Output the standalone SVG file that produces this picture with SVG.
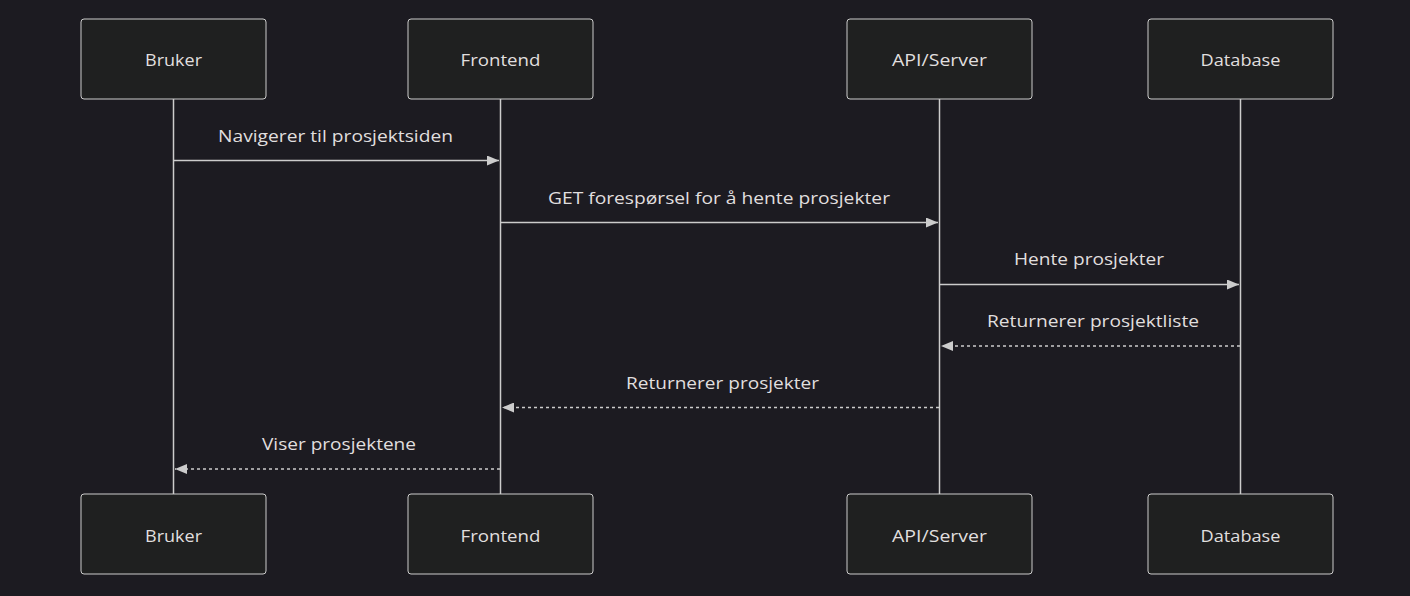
<svg xmlns="http://www.w3.org/2000/svg" width="1410" height="596" viewBox="0 0 1410 596">
<style>
.actor rect{fill:#1f2020;stroke:#cccccc;stroke-width:1}
.actor text{fill:#e0dfdf;font-family:"Open Sans","DejaVu Sans",sans-serif;font-size:17px;font-weight:500;text-anchor:middle;dominant-baseline:central}
.life{stroke:#cccccc;stroke-width:1.5}
.msg{stroke:#cccccc;stroke-width:1.5;fill:none}
.dash{stroke-dasharray:3,3}
.lbl{fill:#e0dfdf;font-family:"Open Sans","DejaVu Sans",sans-serif;font-size:17px;font-weight:500;text-anchor:middle}
</style>
<defs>
<marker id="ah" viewBox="0 0 12 10" refX="12" refY="5" markerWidth="12" markerHeight="10" markerUnits="userSpaceOnUse" orient="auto">
<path d="M0,0 L12,5 L0,10 z" fill="#cccccc"/>
</marker>
</defs>
<rect width="1410" height="596" fill="#1c1b21"/>
<g id="lifelines">
<line class="life" x1="173.5" y1="99" x2="173.5" y2="494"/>
<line class="life" x1="500.5" y1="99" x2="500.5" y2="494"/>
<line class="life" x1="939.5" y1="99" x2="939.5" y2="494"/>
<line class="life" x1="1240.5" y1="99" x2="1240.5" y2="494"/>
</g>
<g id="bruker-top" class="actor"><rect x="81" y="19" width="185" height="80" rx="3"/><text x="173.5" y="59" textLength="57" lengthAdjust="spacingAndGlyphs">Bruker</text></g>
<g id="frontend-top" class="actor"><rect x="408" y="19" width="185" height="80" rx="3"/><text x="500.5" y="59" textLength="80" lengthAdjust="spacingAndGlyphs">Frontend</text></g>
<g id="api-top" class="actor"><rect x="847" y="19" width="185" height="80" rx="3"/><text x="939.5" y="59" textLength="95" lengthAdjust="spacingAndGlyphs">API/Server</text></g>
<g id="database-top" class="actor"><rect x="1148" y="19" width="185" height="80" rx="3"/><text x="1240.5" y="59" textLength="80" lengthAdjust="spacingAndGlyphs">Database</text></g>
<g id="bruker-bottom" class="actor"><rect x="81" y="494" width="185" height="80" rx="3"/><text x="173.5" y="535" textLength="57" lengthAdjust="spacingAndGlyphs">Bruker</text></g>
<g id="frontend-bottom" class="actor"><rect x="408" y="494" width="185" height="80" rx="3"/><text x="500.5" y="535" textLength="80" lengthAdjust="spacingAndGlyphs">Frontend</text></g>
<g id="api-bottom" class="actor"><rect x="847" y="494" width="185" height="80" rx="3"/><text x="939.5" y="535" textLength="95" lengthAdjust="spacingAndGlyphs">API/Server</text></g>
<g id="database-bottom" class="actor"><rect x="1148" y="494" width="185" height="80" rx="3"/><text x="1240.5" y="535" textLength="80" lengthAdjust="spacingAndGlyphs">Database</text></g>
<g id="connectors">
<line class="msg" x1="174" y1="160.5" x2="499" y2="160.5" marker-end="url(#ah)"/>
<line class="msg" x1="501" y1="222.5" x2="938" y2="222.5" marker-end="url(#ah)"/>
<line class="msg" x1="940" y1="284.5" x2="1239" y2="284.5" marker-end="url(#ah)"/>
<line class="msg dash" x1="1240" y1="346" x2="941" y2="346" marker-end="url(#ah)"/>
<line class="msg dash" x1="939" y1="407.5" x2="502" y2="407.5" marker-end="url(#ah)"/>
<line class="msg dash" x1="500" y1="469" x2="175" y2="469" marker-end="url(#ah)"/>
</g>
<g id="labels">
<text class="lbl" x="335.5" y="142" textLength="235" lengthAdjust="spacingAndGlyphs">Navigerer til prosjektsiden</text>
<text class="lbl" x="719" y="204" textLength="342" lengthAdjust="spacingAndGlyphs">GET forespørsel for å hente prosjekter</text>
<text class="lbl" x="1089" y="265" textLength="150" lengthAdjust="spacingAndGlyphs">Hente prosjekter</text>
<text class="lbl" x="1093" y="327" textLength="212" lengthAdjust="spacingAndGlyphs">Returnerer prosjektliste</text>
<text class="lbl" x="722.5" y="389" textLength="193" lengthAdjust="spacingAndGlyphs">Returnerer prosjekter</text>
<text class="lbl" x="339" y="450" textLength="154" lengthAdjust="spacingAndGlyphs">Viser prosjektene</text>
</g>
</svg>
